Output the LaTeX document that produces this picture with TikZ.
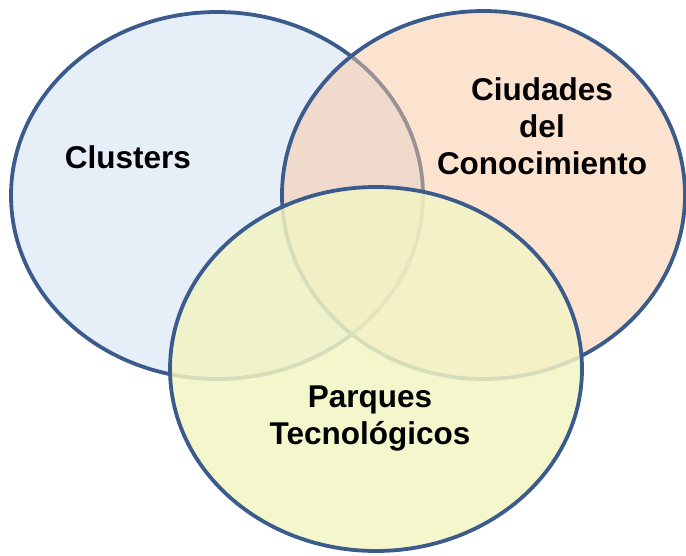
\documentclass[tikz,border=0pt]{standalone}
\usepackage{fontspec}
\setmainfont{Liberation Sans}
\usetikzlibrary{shapes.geometric}

\definecolor{vennline}{HTML}{3B5B8C}
\definecolor{clusterfill}{HTML}{E6EEF8}
\definecolor{ciudadfill}{HTML}{F9C79F}
\definecolor{parquefill}{HTML}{F2F4C3}

\begin{document}
\begin{tikzpicture}[
  x=1pt, y=-1pt,
  set/.style={draw=vennline, ellipse, line width=3.8pt, inner sep=0pt},
  lbl/.style={font=\bfseries\fontsize{31.5}{37}\selectfont, align=center, inner sep=0pt},
]
\useasboundingbox (0,0) rectangle (686,555);

% Three sets, drawn back to front
\node[set, fill=clusterfill, minimum width=412pt, minimum height=367pt] (clusters) at (217,195.5) {};
\node[set, fill=ciudadfill, fill opacity=0.5, minimum width=403pt, minimum height=368pt] (ciudades) at (483.5,195) {};
\node[set, fill=parquefill, fill opacity=0.85, minimum width=412pt, minimum height=364pt] (parques) at (376,369) {};

% Labels
\node[lbl] (clusterslbl) at (128,157) {Clusters};
\node[lbl] (ciudadeslbl) at (542,126.5) {Ciudades\\del\\Conocimiento};
\node[lbl] (parqueslbl) at (370,418) {Parques\\Tecnológicos};

\end{tikzpicture}
\end{document}
